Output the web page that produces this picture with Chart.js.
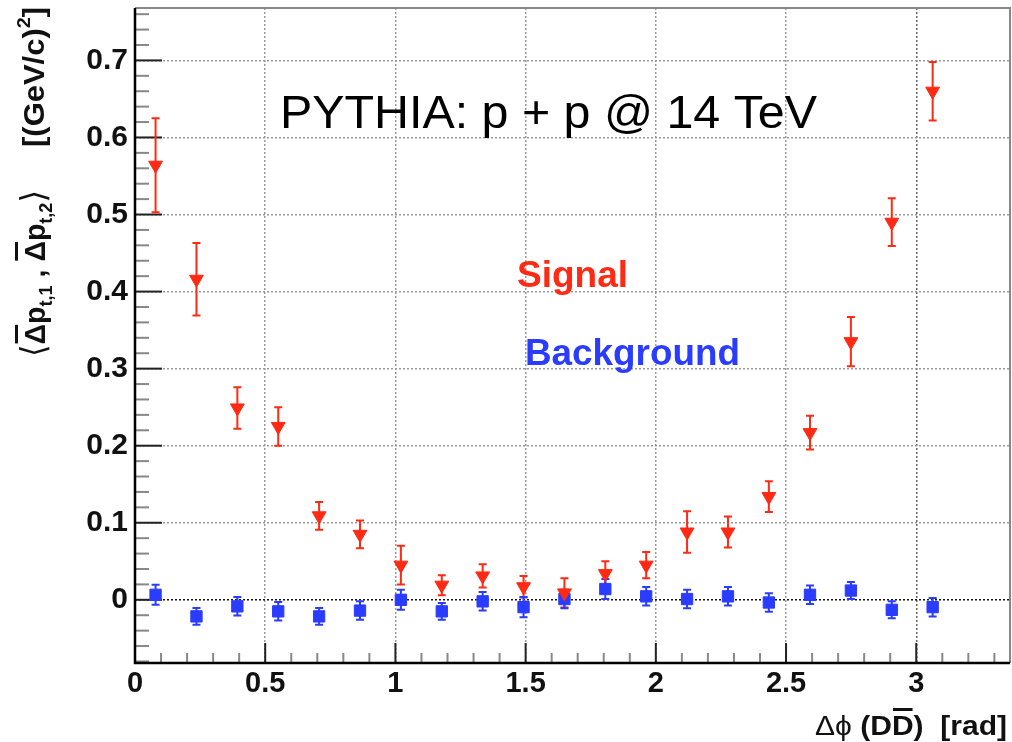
<!DOCTYPE html>
<html>
<head>
<meta charset="utf-8">
<script src="https://cdn.jsdelivr.net/npm/chart.js"></script>
<style>
html, body { margin: 0; padding: 0; background: #fff; }
canvas { display: block; }
</style>
</head>
<body>
<canvas id="chart" width="1012" height="742"></canvas>
<script>
// bin centres, delta phi [rad]
const dphi = [0.079, 0.236, 0.393, 0.550, 0.707, 0.864, 1.021, 1.178, 1.335, 1.492,
              1.649, 1.806, 1.963, 2.120, 2.277, 2.434, 2.592, 2.749, 2.906, 3.063];
const signalVals = [0.564, 0.416, 0.249, 0.225, 0.109, 0.085, 0.045, 0.019, 0.031, 0.017,
                    0.009, 0.034, 0.045, 0.088, 0.088, 0.134, 0.217, 0.335, 0.490, 0.660];
const signalErrs = [0.061, 0.047, 0.027, 0.025, 0.018, 0.018, 0.025, 0.013, 0.015, 0.014,
                    0.019, 0.016, 0.017, 0.027, 0.020, 0.020, 0.022, 0.032, 0.031, 0.038];
const bkgVals = [0.0065, -0.0215, -0.0085, -0.015, -0.0215, -0.014, 0.0, -0.015, -0.002, -0.0095,
                 0.001, 0.014, 0.0045, 0.001, 0.0045, -0.0035, 0.0065, 0.012, -0.013, -0.0095];
const bkgErrs = [0.013, 0.011, 0.012, 0.012, 0.011, 0.012, 0.013, 0.011, 0.012, 0.013,
                 0.012, 0.013, 0.012, 0.012, 0.012, 0.012, 0.012, 0.011, 0.011, 0.012];
const xTickVals = [0, 0.5, 1, 1.5, 2, 2.5, 3];
const yTickVals = [0, 0.1, 0.2, 0.3, 0.4, 0.5, 0.6, 0.7];

const RED = '#ff2a14';
const BLUE = '#2a3cff';
const SANS = '"Liberation Sans", Arial, "DejaVu Sans", sans-serif';

// draws a run of text pieces from (0,0), squeezed to a given width
function drawPieces(ctx, pieces, width) {
    let total = 0;
    pieces.forEach(p => { ctx.font = p.font; p.w = ctx.measureText(p.text).width; total += p.w; });
    const sx = width ? width / total : 1;
    ctx.save();
    ctx.scale(sx, 1);
    let x = 0;
    pieces.forEach(p => {
        ctx.font = p.font;
        ctx.fillText(p.text, x, p.dy || 0);
        if (p.over) {
            ctx.fillRect(x + 1, -p.over, p.w - 2, 3);
        }
        x += p.w;
    });
    ctx.restore();
}

const errorBars = {
    id: 'errorBars',
    beforeDatasetsDraw(chart) {
        const ctx = chart.ctx;
        const ys = chart.scales.y;
        chart.data.datasets.forEach((ds, i) => {
            const meta = chart.getDatasetMeta(i);
            ctx.save();
            ctx.strokeStyle = ds.borderColor;
            ctx.lineWidth = 2;
            meta.data.forEach((pt, j) => {
                const v = ds.data[j].y;
                const top = ys.getPixelForValue(v + ds.errs[j]);
                const bot = ys.getPixelForValue(v - ds.errs[j]);
                ctx.beginPath();
                ctx.moveTo(pt.x, top); ctx.lineTo(pt.x, bot);
                ctx.moveTo(pt.x - 4, top); ctx.lineTo(pt.x + 4, top);
                ctx.moveTo(pt.x - 4, bot); ctx.lineTo(pt.x + 4, bot);
                ctx.stroke();
            });
            ctx.restore();
        });
    }
};

// frame and inward tick marks
const frame = {
    id: 'frame',
    beforeDatasetsDraw(chart) {
        const ctx = chart.ctx;
        const a = chart.chartArea;
        const xs = chart.scales.x, ys = chart.scales.y;
        ctx.save();
        ctx.lineWidth = 2;
        for (let k = -4; k <= 38; k++) {
            const y = ys.getPixelForValue(k / 50);
            const major = k % 5 === 0;
            ctx.strokeStyle = major ? '#222' : '#888';
            ctx.beginPath();
            ctx.moveTo(a.left, y);
            ctx.lineTo(a.left + (major ? 27 : 14), y);
            ctx.stroke();
        }
        for (let k = 1; k <= 33; k++) {
            const x = xs.getPixelForValue(k / 10);
            const major = k % 5 === 0;
            ctx.strokeStyle = major ? '#222' : '#888';
            ctx.beginPath();
            ctx.moveTo(x, a.bottom);
            ctx.lineTo(x, a.bottom - (major ? 20 : 10));
            ctx.stroke();
        }
        ctx.strokeStyle = '#888';
        ctx.beginPath();
        ctx.moveTo(a.left, a.top); ctx.lineTo(a.right, a.top); ctx.lineTo(a.right, a.bottom);
        ctx.stroke();
        ctx.strokeStyle = '#000';
        ctx.lineWidth = 2.5;
        ctx.beginPath();
        ctx.moveTo(a.left, a.top); ctx.lineTo(a.left, a.bottom); ctx.lineTo(a.right, a.bottom);
        ctx.stroke();
        ctx.restore();
    }
};

const labels = {
    id: 'labels',
    afterDraw(chart) {
        const ctx = chart.ctx;
        ctx.save();
        ctx.textBaseline = 'alphabetic';
        ctx.textAlign = 'left';

        ctx.fillStyle = '#000';
        ctx.save();
        ctx.translate(280, 128);
        drawPieces(ctx, [{ text: 'PYTHIA: p + p @ 14 TeV', font: '46px ' + SANS }], 537);
        ctx.restore();

        ctx.fillStyle = RED;
        ctx.save();
        ctx.translate(517, 287);
        drawPieces(ctx, [{ text: 'Signal', font: 'bold 37px ' + SANS }], 111);
        ctx.restore();

        ctx.fillStyle = BLUE;
        ctx.save();
        ctx.translate(525, 365);
        drawPieces(ctx, [{ text: 'Background', font: 'bold 37px ' + SANS }], 215);
        ctx.restore();

        // x axis title
        ctx.fillStyle = '#111';
        ctx.save();
        ctx.translate(815, 735);
        drawPieces(ctx, [
            { text: '\u0394\u03d5 ', font: '28px ' + SANS },
            { text: '(D', font: 'bold 28px ' + SANS },
            { text: 'D', font: 'bold 28px ' + SANS, over: 27 },
            { text: ')  [rad]', font: 'bold 28px ' + SANS }
        ], 192);
        ctx.restore();

        // y axis title, rotated
        const big = 'bold 30px ' + SANS;
        const sub = 'bold 19px ' + SANS;
        const br = '34px "DejaVu Sans", sans-serif';
        ctx.save();
        ctx.translate(45, 357);
        ctx.rotate(-Math.PI / 2);
        drawPieces(ctx, [
            { text: '\u27e8', font: br },
            { text: '\u0394', font: big, over: 30 },
            { text: 'p', font: big },
            { text: 't,1', font: sub, dy: 7 },
            { text: ' , ', font: big },
            { text: '\u0394', font: big, over: 30 },
            { text: 'p', font: big },
            { text: 't,2', font: sub, dy: 7 },
            { text: '\u27e9', font: br }
        ], 167);
        ctx.restore();
        ctx.save();
        ctx.translate(44, 147);
        ctx.rotate(-Math.PI / 2);
        drawPieces(ctx, [
            { text: '[(GeV/c)', font: big },
            { text: '2', font: sub, dy: -14 },
            { text: ']', font: big }
        ], 140);
        ctx.restore();

        ctx.restore();
    }
};

const gridColor = (c) => {
    if (!c.tick) return '#999';
    if (c.tick.value === 0) return '#111';
    return '#999';
};

const chart = new Chart(document.getElementById('chart'), {
    type: 'scatter',
    data: {
        datasets: [
            {
                label: 'Signal',
                data: dphi.map((x, i) => ({ x: x, y: signalVals[i] })),
                errs: signalErrs,
                pointStyle: 'triangle',
                rotation: 180,
                radius: 8,
                backgroundColor: RED,
                borderColor: RED,
                borderWidth: 1
            },
            {
                label: 'Background',
                data: dphi.map((x, i) => ({ x: x, y: bkgVals[i] })),
                errs: bkgErrs,
                pointStyle: 'rect',
                radius: 8,
                backgroundColor: BLUE,
                borderColor: BLUE,
                borderWidth: 1
            }
        ]
    },
    options: {
        responsive: false,
        animation: false,
        devicePixelRatio: 1,
        layout: { autoPadding: false, padding: { top: 8, right: 2, left: 0, bottom: 0 } },
        plugins: { legend: { display: false }, tooltip: { enabled: false } },
        scales: {
            x: {
                type: 'linear',
                min: 0,
                max: 3.36,
                afterBuildTicks: s => { s.ticks = xTickVals.map(v => ({ value: v })); },
                afterFit: s => { s.height = 79; s.paddingLeft = 0; s.paddingRight = 0; },
                ticks: {
                    font: { family: SANS, size: 29, weight: 'bold' },
                    color: '#111',
                    padding: 4,
                    maxRotation: 0,
                    callback: v => String(v)
                },
                grid: { color: c => (c.tick && c.tick.value === 3) ? '#666' : '#999', lineWidth: 1.5, drawTicks: false },
                border: { display: false, dash: [2, 2] }
            },
            y: {
                type: 'linear',
                min: -0.082,
                max: 0.768,
                afterBuildTicks: s => { s.ticks = yTickVals.map(v => ({ value: v })); },
                afterFit: s => { s.width = 135; s.paddingTop = 0; s.paddingBottom = 0; },
                ticks: {
                    font: { family: SANS, size: 30, weight: 'bold' },
                    color: '#111',
                    padding: 7,
                    callback: v => String(v)
                },
                grid: { color: gridColor, lineWidth: 1.5, drawTicks: false },
                border: { display: false, dash: [2, 2] }
            }
        }
    },
    plugins: [frame, errorBars, labels]
});
</script>
</body>
</html>
